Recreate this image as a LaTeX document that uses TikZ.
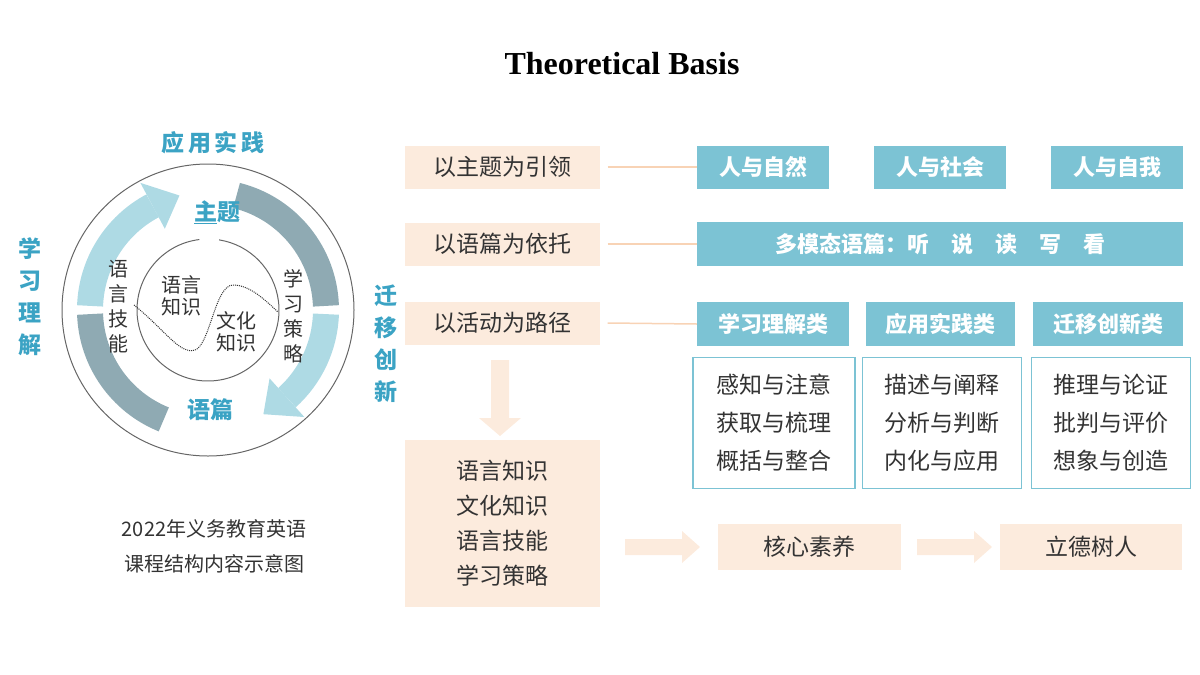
\documentclass[tikz,border=0pt]{standalone}
\usepackage{fontspec}
\setmainfont{Noto Sans CJK SC}
\newfontfamily\titlefont{Liberation Serif}
\usetikzlibrary{calc}
\definecolor{peach}{HTML}{FCEBDD}
\definecolor{bluebox}{HTML}{7CC3D4}
\definecolor{cblue}{HTML}{3BA3C4}
\definecolor{lightb}{HTML}{AEDAE4}
\definecolor{darkb}{HTML}{8FAAB3}
\definecolor{txt}{HTML}{333333}
\definecolor{lineP}{HTML}{F8D3B5}
\begin{document}
\begin{tikzpicture}[x=1pt,y=-1pt,
  pbox/.style={fill=peach,draw=none,text=txt,font=\fontsize{23}{26}\selectfont,align=center,inner sep=0},
  bbox/.style={fill=bluebox,draw=none,text=white,font=\fontsize{22}{24}\selectfont\bfseries,inner sep=0},
  obox/.style={draw=bluebox,line width=1.5pt,text=txt,font=\fontsize{23}{38}\selectfont,align=center,inner sep=0},
  ctext/.style={text=cblue,font=\fontsize{23}{25}\selectfont\bfseries},
  itext/.style={text=txt,font=\fontsize{20}{22}\selectfont,align=center},
  conn/.style={draw=lineP,line width=1.5pt},
  fat/.style={fill=peach,draw=none}]
\useasboundingbox (0,0) rectangle (1200,675);
\node[font=\titlefont\fontsize{32}{34}\selectfont\bfseries] (title) at (622,64) {Theoretical Basis};
% circle diagram
\coordinate (C) at (208,310);
\draw[gray!80!black,line width=1pt] (C) circle[radius=146];
\draw[gray!80!black,line width=1pt] (C) ++(-97:71) arc[start angle=-97,end angle=-445+4,radius=71];
\begin{scope}[shift={(C)}]
  \draw[lightb,line width=26pt] (-178:118) arc[start angle=-178,end angle=-118,radius=118];
  \fill[lightb] (-118:92) -- (-118:144) -- (-104:118) -- cycle;
  \draw[darkb,line width=26pt] (-76:118) arc[start angle=-76,end angle=-2,radius=118];
  \draw[lightb,line width=26pt] (2:118) arc[start angle=2,end angle=48,radius=118];
  \fill[lightb] (48:92) -- (48:144) -- (62:118) -- cycle;
  \draw[darkb,line width=26pt] (-182:118) arc[start angle=-182,end angle=-248,radius=118];
\end{scope}
\draw[txt,densely dotted,line width=1pt] (134,305) .. controls (165,330) and (180,355) .. (195,350) .. controls (210,345) and (215,285) .. (233,285) .. controls (250,285) and (265,300) .. (278,312);
\node[ctext] (zt) at (217,212) {\underline{主}题};
\node[ctext] (yp) at (210,410) {语篇};
\node[ctext] (yy) at (213,143) {应\,用\,实\,践};
\node[ctext,align=center,font=\fontsize{23}{32}\selectfont\bfseries] (xl) at (30,297) {学\\习\\理\\解};
\node[ctext,align=center,font=\fontsize{23}{32}\selectfont\bfseries] (qy) at (386,344) {迁\\移\\创\\新};
\node[itext,font=\fontsize{20}{25}\selectfont] (jn) at (118,307) {语\\言\\技\\能};
\node[itext,font=\fontsize{20}{25}\selectfont] (cl) at (293,316) {学\\习\\策\\略};
\node[itext] (zs) at (181,296) {语言\\知识};
\node[itext] (wh) at (236,332) {文化\\知识};
\node[txt,font=\fontsize{20}{35}\selectfont,align=center] (cap) at (214,546) {2022年义务教育英语\\课程结构内容示意图};
% left column
\node[pbox,minimum width=195,minimum height=43] (p1) at (502,167) {以主题为引领};
\node[pbox,minimum width=195,minimum height=43] (p2) at (502,244) {以语篇为依托};
\node[pbox,minimum width=195,minimum height=43] (p3) at (502,323) {以活动为路径};
\node[pbox,minimum width=195,minimum height=167,font=\fontsize{23}{35}\selectfont] (p4) at (502,523) {语言知识\\文化知识\\语言技能\\学习策略};
\fill[peach] (491,360) rectangle (509,418) -- (521,418) -- (500,436) -- (479,418) -- (491,418) -- cycle;
% blue boxes
\node[bbox,minimum width=132,minimum height=43] (b1) at (763,167) {人与自然};
\node[bbox,minimum width=132,minimum height=43] (b2) at (940,167) {人与社会};
\node[bbox,minimum width=132,minimum height=43] (b3) at (1117,167) {人与自我};
\node[bbox,minimum width=486,minimum height=44] (b4) at (940,244) {多模态语篇：听\quad 说\quad 读\quad 写\quad 看};
\node[bbox,minimum width=152,minimum height=44] (b5) at (773,324) {学习理解类};
\node[bbox,minimum width=149,minimum height=44] (b6) at (940,324) {应用实践类};
\node[bbox,minimum width=150,minimum height=44] (b7) at (1108,324) {迁移创新类};
\node[obox,minimum width=162,minimum height=131] (o1) at (774,423) {感知与注意\\获取与梳理\\概括与整合};
\node[obox,minimum width=159,minimum height=131] (o2) at (942,423) {描述与阐释\\分析与判断\\内化与应用};
\node[obox,minimum width=159,minimum height=131] (o3) at (1111,423) {推理与论证\\批判与评价\\想象与创造};
\draw[conn] (p1.east) ++(8,0) -- (b1.west);
\draw[conn] (p2.east) ++(8,0) -- (b4.west);
\draw[conn] (p3.east) ++(8,0) -- (b5.west);
% bottom
\node[pbox,minimum width=183,minimum height=46] (k1) at (809,547) {核心素养};
\node[pbox,minimum width=182,minimum height=46] (k2) at (1091,547) {立德树人};
\fill[peach] (625,539) -- (682,539) -- (682,531) -- (700,547) -- (682,563) -- (682,555) -- (625,555) -- cycle;
\fill[peach] (917,539) -- (974,539) -- (974,531) -- (992,547) -- (974,563) -- (974,555) -- (917,555) -- cycle;
\end{tikzpicture}
\end{document}
